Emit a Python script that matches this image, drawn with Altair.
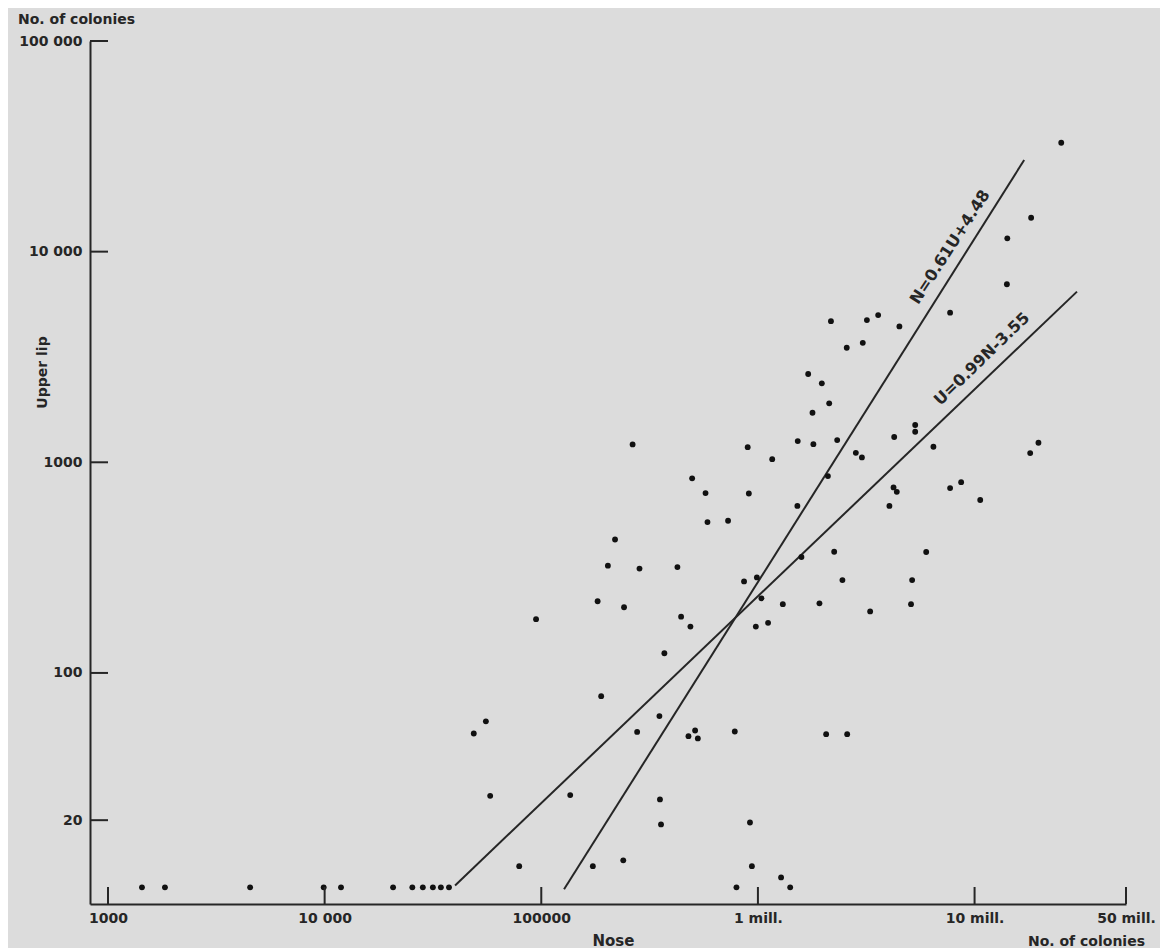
import altair as alt
import pandas as pd

# ---------------- data ----------------
# number of colonies on the nose (x) and on the upper lip (y) for each subject
nose = [1435, 1832, 4530, 9900, 11900, 20700, 25400, 28400, 31600, 34400, 37500,
        48800, 55500, 58100, 79100, 94600, 136000, 173000, 189000, 239000, 277000,
        351000, 353000, 357000, 478000, 513000, 528000, 782000, 919000, 938000, 796000,
        1279000, 1409000,
        2133000, 1786000, 264000, 897000, 1527000, 1803000, 2322000, 4256000, 1164000,
        2831000, 3020000, 2104000, 497000, 573000, 908000, 4226000, 4375000, 4045000,
        1521000, 585000, 728000, 219000, 203000, 284000, 425000, 2249000, 1588000,
        989000, 863000, 2455000, 1038000, 182000, 241000, 1303000, 1923000, 3296000,
        442000, 488000, 978000, 1114000, 370000,
        25120000, 18240000, 14160000, 14100000, 7710000, 2173000, 3184000, 3589000,
        4498000, 2570000, 3048000, 1972000, 1706000,
        5320000, 5320000, 6457000, 19720000, 18060000,
        7710000, 8670000, 10620000, 5980000, 5150000, 5090000, 2065000, 2582000]
lip = [9.6, 9.6, 9.6, 9.6, 9.6, 9.6, 9.6, 9.6, 9.6, 9.6, 9.6,
       51.6, 58.9, 26.1, 12.1, 180, 26.3, 12.1, 77.6, 12.9, 52.5,
       62.4, 25.1, 19.1, 50.1, 53.3, 48.9, 52.7, 19.5, 12.1, 9.6,
       10.7, 9.6,
       1905, 1718, 1216, 1180, 1261, 1219, 1275, 1318, 1035,
       1109, 1055, 860, 839, 714, 711, 760, 724, 621,
       621, 520, 528, 430, 323, 313, 318, 376, 355,
       284, 272, 276, 226, 219, 205, 212, 214, 196,
       185, 166, 166, 173, 124,
       32890, 14490, 11570, 7000, 5130, 4677, 4732, 5000,
       4416, 3499, 3690, 2371, 2624,
       1503, 1396, 1185, 1238, 1106,
       754, 805, 662, 375, 276, 212, 51.2, 51.2]

# regression lines (end points) and their labels
line_names = ["U", "U", "N", "N"]
line_nose = [40000, 29700000, 127400, 16940000]
line_lip = [9.8, 6460, 9.4, 27230]
eq_U_text = ["U=0.99N-3.55"]
eq_U_nose = [10800000]
eq_U_lip = [3090]
eq_N_text = ["N=0.61U+4.48"]
eq_N_nose = [7710000]
eq_N_lip = [10520]

# axes
x_ticks = [1000, 10000, 100000, 1000000, 10000000, 50000000]
x_labels = ["1000", "10 000", "100000", "1 mill.", "10 mill.", "50 mill."]
y_ticks = [100000, 10000, 1000, 100, 20]
y_labels = ["100 000", "10 000", "1000", "100", "20"]
x_title = "Nose"
y_title = "Upper lip"
unit_text = ["No. of colonies"]

# ---------------- styling ----------------
W, H = 1036, 863
FONT = "DejaVu Sans"
INK = "#262626"
DOT = "#111111"
BG = "#dcdcdc"

xs = alt.Scale(type="log", domain=[826, 50000000], nice=False)
ys = alt.Scale(type="log", domain=[8, 100000], nice=False)


def lab_expr(vals, labs):
    e = "''"
    for v, l in zip(reversed(vals), reversed(labs)):
        e = f"datum.value == {v} ? '{l}' : ({e})"
    return e


x_axis = alt.Axis(values=x_ticks, labelExpr=lab_expr(x_ticks, x_labels),
                  ticks=False, tickSize=0, grid=False,
                  domainColor=INK, domainWidth=2,
                  labelFont=FONT, labelFontSize=14, labelFontWeight="bold",
                  labelColor=INK, labelPadding=7, labelFlush=False,
                  labelOverlap=False, labelBaseline="top",
                  title=x_title, titleFont=FONT, titleFontSize=15,
                  titleFontWeight="bold", titleColor=INK,
                  titleX=523, titleY=36, titleAlign="center",
                  titleBaseline="middle", titleAngle=0)
y_axis = alt.Axis(values=y_ticks, labelExpr=lab_expr(y_ticks, y_labels),
                  ticks=False, tickSize=0, grid=False,
                  domainColor=INK, domainWidth=2,
                  labelFont=FONT, labelFontSize=14, labelFontWeight="bold",
                  labelColor=INK, labelPadding=8, labelFlush=False,
                  labelOverlap=False, labelBaseline="middle",
                  title=y_title, titleFont=FONT, titleFontSize=14,
                  titleFontWeight="bold", titleColor=INK,
                  titleX=-48, titleY=331, titleAlign="center",
                  titleBaseline="middle", titleAngle=270)

X = alt.X("nose:Q", scale=xs, axis=x_axis)
Y = alt.Y("lip:Q", scale=ys, axis=y_axis)

pts_df = pd.DataFrame({"nose": nose, "lip": lip})
lines_df = pd.DataFrame({"line": line_names, "nose": line_nose, "lip": line_lip})

lines = alt.Chart(lines_df).mark_line(color=INK, strokeWidth=2).encode(
    x=X, y=Y, detail="line:N",
)

points = alt.Chart(pts_df).mark_circle(size=34, color=DOT, opacity=1).encode(
    x=X, y=Y,
)

eqU = alt.Chart(pd.DataFrame({"t": eq_U_text, "nose": eq_U_nose, "lip": eq_U_lip})).mark_text(
    font=FONT, fontSize=16, fontWeight="bold", color=INK, angle=316,
    align="center", baseline="middle").encode(x=X, y=Y, text="t:N")
eqN = alt.Chart(pd.DataFrame({"t": eq_N_text, "nose": eq_N_nose, "lip": eq_N_lip})).mark_text(
    font=FONT, fontSize=16, fontWeight="bold", color=INK, angle=303,
    align="center", baseline="middle").encode(x=X, y=Y, text="t:N")

yt = alt.Chart(pd.DataFrame({"lip": y_ticks})).mark_rule(color=INK, strokeWidth=2).encode(
    y=Y, x=alt.value(0), x2=alt.value(18),
)
xt = alt.Chart(pd.DataFrame({"nose": x_ticks})).mark_rule(color=INK, strokeWidth=2).encode(
    x=X, y=alt.value(H), y2=alt.value(H - 17),
)

unit_df = pd.DataFrame({"t": unit_text})
top_unit = alt.Chart(unit_df).mark_text(
    font=FONT, fontSize=14, fontWeight="bold", color=INK,
    align="left", baseline="middle").encode(
    text="t:N", x=alt.value(-72), y=alt.value(-21.5))
bottom_unit = alt.Chart(unit_df).mark_text(
    font=FONT, fontSize=14, fontWeight="bold", color=INK,
    align="right", baseline="middle").encode(
    text="t:N", x=alt.value(1055), y=alt.value(H + 38))

chart = alt.layer(lines, points, eqU, eqN, yt, xt, top_unit, bottom_unit).properties(
    width=W, height=H,
    padding={"left": 82, "top": 33, "right": 34, "bottom": 44},
    autosize=alt.AutoSizeParams(type="none"),
    background=BG,
).configure_view(stroke=None)

chart.save("out.html", embed_options={"renderer": "svg", "actions": False})
